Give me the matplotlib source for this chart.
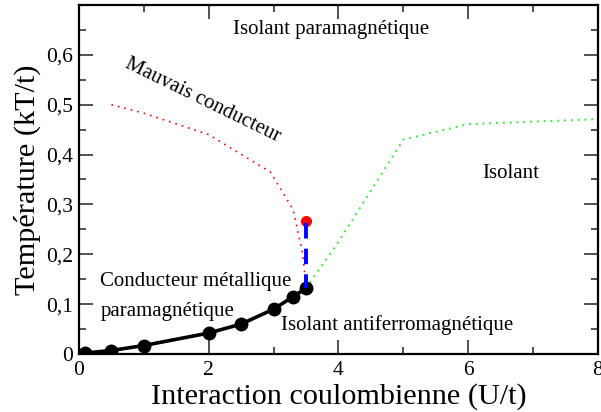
import matplotlib
matplotlib.use("Agg")
import matplotlib.pyplot as plt
from matplotlib.ticker import MultipleLocator, FuncFormatter

# Data
u_afm = [0.1, 0.5, 1.0, 2.0, 2.5, 3.0, 3.3, 3.5]
t_afm = [0.002, 0.007, 0.017, 0.042, 0.06, 0.09, 0.115, 0.132]

u_bad = [0.5, 1.0, 2.0, 2.95, 3.3, 3.45, 3.5]
t_bad = [0.5, 0.483, 0.44, 0.365, 0.29, 0.2, 0.135]

u_ins = [3.5, 4.0, 5.0, 6.0, 8.0]
t_ins = [0.132, 0.225, 0.43, 0.461, 0.471]

u_crit = [3.5]
t_crit = [0.266]

u_jump = [3.5, 3.5]
t_jump = [0.262, 0.132]

plt.rcParams['font.family'] = ['Liberation Serif', 'DejaVu Serif']

fig = plt.figure(figsize=(6.01, 4.12), dpi=100)
ax = fig.add_axes([0.1314, 0.1408, 0.8636, 0.8471])

ax.plot(u_bad, t_bad, color='red', lw=1.2, linestyle=(0, (1, 3)))
ax.plot(u_ins, t_ins, color='#33ee33', lw=1.4, linestyle=(0, (1, 2.5)))
ax.plot(u_afm, t_afm, color='black', lw=2.6, marker='o', markersize=9, zorder=3)
ax.plot(u_crit, t_crit, color='red', marker='o', markersize=7, linestyle='none', zorder=4)
ax.plot(u_jump, t_jump, color='blue', lw=2.8, dashes=(4, 2.6), zorder=5)

ax.set_xlim(0, 8)
ax.set_ylim(0, 0.7)
ax.xaxis.set_major_locator(MultipleLocator(2))
ax.xaxis.set_minor_locator(MultipleLocator(1))
ax.yaxis.set_major_locator(MultipleLocator(0.1))
ax.yaxis.set_minor_locator(MultipleLocator(0.05))

def yfmt(v, pos):
    if abs(v) < 1e-9:
        return '0'
    if v > 0.65:
        return ''
    return ('%.1f' % v).replace('.', ',')

ax.yaxis.set_major_formatter(FuncFormatter(yfmt))
ax.xaxis.set_major_formatter(FuncFormatter(lambda v, p: '%d' % round(v)))

ax.tick_params(which='both', direction='in', top=True, right=True,
               labelsize=15.5, color='#444444')
ax.tick_params(which='major', length=10, width=1.3)
ax.tick_params(which='minor', length=5, width=1.3)
ax.tick_params(axis='x', pad=5)
ax.tick_params(axis='y', pad=4)
for s in ax.spines.values():
    s.set_linewidth(1.6)

ax.set_xlabel('Interaction coulombienne (U/t)', fontsize=21.8, labelpad=2)
ax.set_ylabel('Température (kT/t)', fontsize=21.8, labelpad=4)

fs = 15
ax.text(3.89, 0.65, 'Isolant paramagnétique', fontsize=fs, ha='center', va='center')
ax.text(1.91, 0.509, 'Mauvais conducteur', fontsize=fs, ha='center', va='center',
        rotation=-26, rotation_mode='anchor')
ax.text(6.66, 0.362, 'Isolant', fontsize=fs, ha='center', va='center')
ax.text(0.33, 0.145, 'Conducteur métallique', fontsize=fs, ha='left', va='center')
ax.text(0.33, 0.085, 'paramagnétique', fontsize=fs, ha='left', va='center')
ax.text(3.12, 0.058, 'Isolant antiferromagnétique', fontsize=fs, ha='left', va='center')

fig.savefig('out.png', dpi=100)
